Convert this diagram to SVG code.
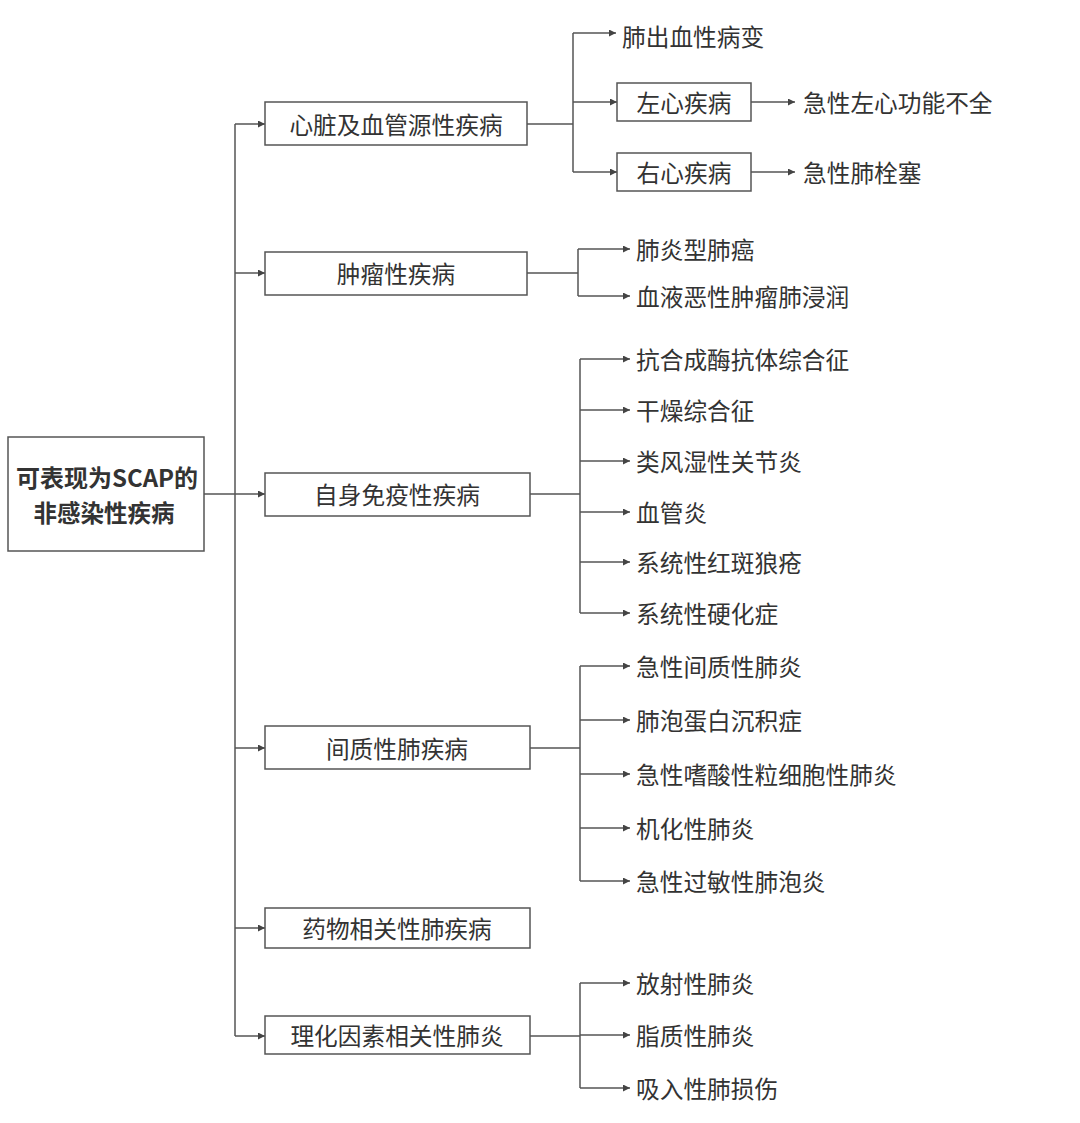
<svg xmlns="http://www.w3.org/2000/svg" width="1080" height="1123" viewBox="0 0 1080 1123">
<defs>
<marker id="ah" viewBox="0 0 10 10" refX="10" refY="5" markerWidth="9" markerHeight="7" markerUnits="userSpaceOnUse" orient="auto">
<path d="M0,0 L10,5 L0,10 z" fill="#444"/>
</marker>
<style>
.box{fill:#fff;stroke:#555;stroke-width:1.5}
.t{font-family:"Noto Sans CJK SC","Noto Sans",sans-serif;font-size:23.7px;fill:#333;dominant-baseline:central}
.c{text-anchor:middle}
.root{font-weight:bold;font-size:23.5px;fill:#333}
.ln{fill:none;stroke:#555;stroke-width:1.5}
.ar{fill:none;stroke:#555;stroke-width:1.5;marker-end:url(#ah)}
</style>
</defs>
<rect width="1080" height="1123" fill="#fff"/>
<g id="connectors">
<path class="ln" d="M204,494 H235 M235,124 V1036"/>
<path class="ar" d="M235,124 H265"/>
<path class="ar" d="M235,273 H265"/>
<path class="ar" d="M235,494 H265"/>
<path class="ar" d="M235,748 H265"/>
<path class="ar" d="M235,928 H265"/>
<path class="ar" d="M235,1036 H265"/>
<path class="ln" d="M527,124 H573 M573,33 V172"/>
<path class="ar" d="M573,33 H616"/>
<path class="ar" d="M573,102 H617"/>
<path class="ar" d="M573,172 H617"/>
<path class="ar" d="M751,102 H795"/>
<path class="ar" d="M751,172 H795"/>
<path class="ln" d="M527,273 H578 M578,249 V296"/>
<path class="ar" d="M578,249 H630"/>
<path class="ar" d="M578,296 H630"/>
<path class="ln" d="M530,494 H580 M580,359 V613"/>
<path class="ar" d="M580,359 H630"/>
<path class="ar" d="M580,410 H630"/>
<path class="ar" d="M580,461 H630"/>
<path class="ar" d="M580,512 H630"/>
<path class="ar" d="M580,562 H630"/>
<path class="ar" d="M580,613 H630"/>
<path class="ln" d="M530,748 H580 M580,666 V881"/>
<path class="ar" d="M580,666 H630"/>
<path class="ar" d="M580,720 H630"/>
<path class="ar" d="M580,774 H630"/>
<path class="ar" d="M580,828 H630"/>
<path class="ar" d="M580,881 H630"/>
<path class="ln" d="M530,1036 H580 M580,983 V1088"/>
<path class="ar" d="M580,983 H630"/>
<path class="ar" d="M580,1035 H630"/>
<path class="ar" d="M580,1088 H630"/>
</g>
<g id="root">
<rect class="box" x="8" y="437" width="196" height="114"/>
<text class="t root" x="16" y="477" textLength="182" lengthAdjust="spacingAndGlyphs">可表现为SCAP的</text>
<text class="t c root" x="104" y="512">非感染性疾病</text>
</g>
<g id="n1"><rect class="box" x="265" y="102" width="262" height="43"/><text class="t c" x="396" y="124">心脏及血管源性疾病</text></g>
<g id="n2"><rect class="box" x="265" y="252" width="262" height="43"/><text class="t c" x="396" y="273">肿瘤性疾病</text></g>
<g id="n3"><rect class="box" x="265" y="473" width="265" height="43"/><text class="t c" x="397" y="494">自身免疫性疾病</text></g>
<g id="n4"><rect class="box" x="265" y="726" width="265" height="43"/><text class="t c" x="397" y="748">间质性肺疾病</text></g>
<g id="n5"><rect class="box" x="265" y="908" width="265" height="40"/><text class="t c" x="397" y="928">药物相关性肺疾病</text></g>
<g id="n6"><rect class="box" x="265" y="1016" width="265" height="38"/><text class="t c" x="397" y="1035">理化因素相关性肺炎</text></g>
<g id="l1a"><text class="t" x="622" y="36">肺出血性病变</text></g>
<g id="l1b"><rect class="box" x="617" y="83" width="134" height="38"/><text class="t c" x="684" y="102">左心疾病</text></g>
<g id="l1c"><rect class="box" x="617" y="153" width="134" height="38"/><text class="t c" x="684" y="172">右心疾病</text></g>
<g id="l1b1"><text class="t" x="803" y="102">急性左心功能不全</text></g>
<g id="l1c1"><text class="t" x="803" y="172">急性肺栓塞</text></g>
<g id="l2a"><text class="t" x="636" y="249">肺炎型肺癌</text></g>
<g id="l2b"><text class="t" x="636" y="296">血液恶性肿瘤肺浸润</text></g>
<g id="l3a"><text class="t" x="636" y="359">抗合成酶抗体综合征</text></g>
<g id="l3b"><text class="t" x="636" y="410">干燥综合征</text></g>
<g id="l3c"><text class="t" x="636" y="461">类风湿性关节炎</text></g>
<g id="l3d"><text class="t" x="636" y="512">血管炎</text></g>
<g id="l3e"><text class="t" x="636" y="562">系统性红斑狼疮</text></g>
<g id="l3f"><text class="t" x="636" y="613">系统性硬化症</text></g>
<g id="l4a"><text class="t" x="636" y="666">急性间质性肺炎</text></g>
<g id="l4b"><text class="t" x="636" y="720">肺泡蛋白沉积症</text></g>
<g id="l4c"><text class="t" x="636" y="774">急性嗜酸性粒细胞性肺炎</text></g>
<g id="l4d"><text class="t" x="636" y="828">机化性肺炎</text></g>
<g id="l4e"><text class="t" x="636" y="881">急性过敏性肺泡炎</text></g>
<g id="l6a"><text class="t" x="636" y="983">放射性肺炎</text></g>
<g id="l6b"><text class="t" x="636" y="1035">脂质性肺炎</text></g>
<g id="l6c"><text class="t" x="636" y="1088">吸入性肺损伤</text></g>
</svg>
